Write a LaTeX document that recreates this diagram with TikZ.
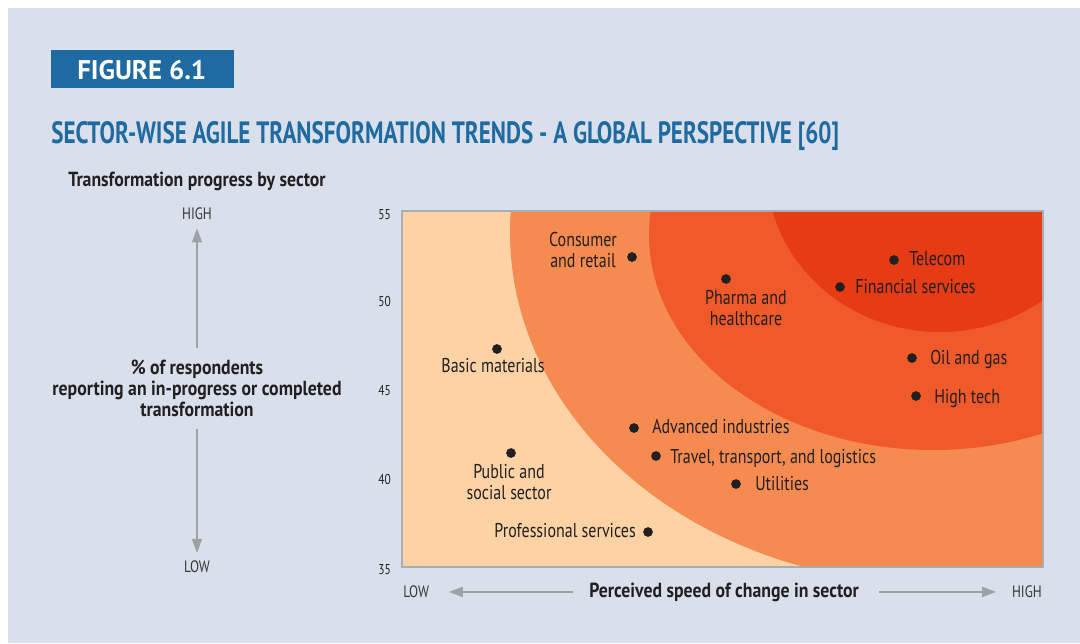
\documentclass[tikz,border=0pt]{standalone}
\usepackage{fontspec}
\setmainfont{PT Sans}[FakeStretch=0.8, BoldFeatures={FakeStretch=0.87}]
\newfontfamily\tagfont{PT Sans}
\newfontfamily\titlefont{PT Sans}[FakeStretch=0.75]
\usetikzlibrary{arrows.meta}
\definecolor{bgblue}{RGB}{217,224,236}
\definecolor{figblue}{RGB}{31,106,160}
\definecolor{inkdark}{RGB}{35,31,32}
\definecolor{peach}{RGB}{253,211,166}
\definecolor{ltorange}{RGB}{246,139,82}
\definecolor{midorange}{RGB}{240,90,42}
\definecolor{deepred}{RGB}{230,59,20}
\definecolor{axisgray}{RGB}{158,160,163}
\definecolor{framegray}{RGB}{168,172,180}

\begin{document}
\begin{tikzpicture}[x=0.75pt,y=0.75pt,yscale=-1,xscale=1,
  lbl/.style={inner sep=0.75pt, text=inkdark, font=\fontsize{15}{15.75}\selectfont},
  head/.style={inner sep=0.75pt, text=inkdark, font=\bfseries\fontsize{15.3}{15.75}\selectfont},
  tick/.style={inner sep=0.75pt, text=inkdark, anchor=base east, font=\fontsize{10.7}{12}\selectfont},
  ends/.style={inner sep=0.75pt, text=inkdark!90, font=\fontsize{12.4}{14}\selectfont},
  dot/.style={circle, fill=inkdark, inner sep=0pt, minimum size=7.3pt},
  axisarrow/.style={draw=axisgray, line width=1.1pt, -{Triangle[length=10.5pt,width=7.5pt]}}]
\useasboundingbox (0,0) rectangle (1080,643);

%Shape: Rectangle [background]
\fill[bgblue] (8,8) rectangle (1080,643);
%Shape: Rectangle [figure tag]
\fill[figblue] (51,50) rectangle (234,88);
% Text Node
\node (figno) [anchor=base west, inner sep=0pt, text=white, font=\tagfont\bfseries\fontsize{20.2}{22}\selectfont] at (77,79) {FIGURE 6.1};
% Text Node
\node (title) [anchor=base west, inner sep=0pt, text=figblue, font=\titlefont\bfseries\fontsize{23.1}{24}\selectfont] at (51,143) {SECTOR-WISE AGILE TRANSFORMATION TRENDS - A GLOBAL PERSPECTIVE [60]};
% Text Node
\node (ytitle) [head, anchor=base west] at (67,186) {Transformation progress by sector};

%Shape: zones, clipped to the plot frame
\begin{scope}
\clip (402,211) rectangle (1043,567);
\fill[peach] (402,211) rectangle (1043,567);
\fill[ltorange] (935,232) ellipse [x radius=425, y radius=352];
\fill[midorange] (933,235) ellipse [x radius=284, y radius=215];
\fill[deepred] (940,170) ellipse [x radius=173, y radius=162];
\end{scope}
%Shape: Rectangle [plot frame]
\draw[framegray, line width=0.8pt] (402,211) rectangle (1043,567);

% Tick labels
\node (t55) [tick] at (392,219) {55};
\node (t50) [tick] at (392,306) {50};
\node (t45) [tick] at (392,395) {45};
\node (t40) [tick] at (392,484) {40};
\node (t35) [tick] at (392,574) {35};

% Vertical axis
\node (yhigh) [ends, anchor=base] at (197,219) {HIGH};
\node (ylow) [ends, anchor=base] at (197,572) {LOW};
\node (ylab) [head, anchor=north, align=center] at (197,359) {\% of respondents\\reporting an in-progress or completed\\transformation};
\draw[axisarrow, shorten <=8pt, shorten >=6pt] (ylab.north) -- (yhigh.south);
\draw[axisarrow, shorten <=8pt, shorten >=4.5pt] (ylab.south) -- (ylow.north);

% Horizontal axis
\node (xlow) [ends, anchor=base west] at (402,597) {LOW};
\node (xhigh) [ends, anchor=base east] at (1043,597) {HIGH};
\node (xlab) [head, anchor=base west] at (588,597) {Perceived speed of change in sector};
\draw[axisarrow, shorten <=11pt, shorten >=14pt] (xlab.west) -- (xlow.east |- xlab.west);
\draw[axisarrow, shorten <=14pt, shorten >=11pt] (xlab.east) -- (xhigh.west |- xlab.east);

% Sector dots
\node (telecom) [dot] at (894,260) {};
\node (finance) [dot] at (840,287) {};
\node (pharma) [dot] at (726,279) {};
\node (oilgas) [dot] at (912,358) {};
\node (hightech) [dot] at (916,396) {};
\node (consumer) [dot] at (632,257) {};
\node (basic) [dot] at (497,349) {};
\node (advanced) [dot] at (634,428) {};
\node (travel) [dot] at (656,456) {};
\node (utilities) [dot] at (736,484) {};
\node (public) [dot] at (511,453) {};
\node (profserv) [dot] at (648,532) {};

% Sector labels
\node (telecomlbl) [lbl, anchor=base west] at (908,265) {Telecom};
\node (financelbl) [lbl, anchor=base west] at (854,293) {Financial services};
\node (pharmalbl) [lbl, anchor=north, align=center] at (746,289) {Pharma and\\healthcare};
\node (oilgaslbl) [lbl, anchor=base west] at (929,364) {Oil and gas};
\node (hightechlbl) [lbl, anchor=base west] at (933,403) {High tech};
\node (consumerlbl) [lbl, anchor=north, align=center] at (583,231) {Consumer\\and retail};
\node (basiclbl) [lbl, anchor=base] at (493,372) {Basic materials};
\node (advancedlbl) [lbl, anchor=base west] at (651,433) {Advanced industries};
\node (travellbl) [lbl, anchor=base west] at (669,463) {Travel, transport, and logistics};
\node (utilitieslbl) [lbl, anchor=base west] at (754,490) {Utilities};
\node (publiclbl) [lbl, anchor=north, align=center] at (509,463) {Public and\\social sector};
\node (profservlbl) [lbl, anchor=base east] at (637,537) {Professional services};

\end{tikzpicture}
\end{document}
